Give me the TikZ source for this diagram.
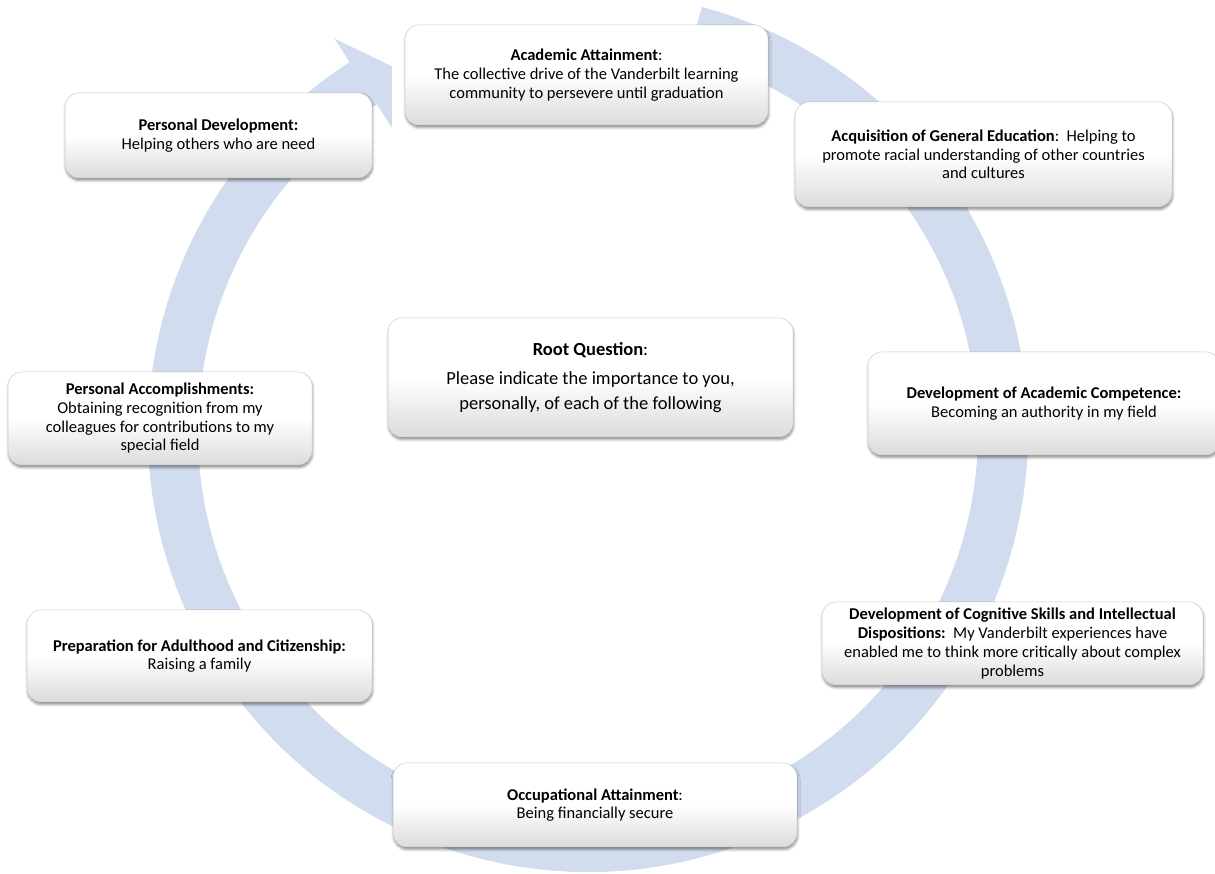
\documentclass[tikz,border=0pt]{standalone}
\usepackage{fontspec}
\setmainfont{Carlito}
\usetikzlibrary{shadows.blur}
\definecolor{ringc}{HTML}{D1DCEE}
\begin{document}
\begin{tikzpicture}[x=1pt,y=1pt,
  box/.style={rounded corners=14pt, draw=black!20, line width=0.5pt,
    top color=white, bottom color=black!14, middle color=white,
    blur shadow={shadow xshift=0.6pt, shadow yshift=-2.5pt, shadow blur radius=2.5pt, shadow opacity=45},
    align=center, font=\fontsize{16.5}{18.7}\selectfont, inner sep=0pt, anchor=center, text=black},
]
\useasboundingbox (0,0) rectangle (1215,874);
\coordinate (C) at (588,442);
% circular arrow
\fill[ringc] ([shift={(C)}]75:440pt) arc[start angle=75, end angle=-237.2, radius=440pt]
  -- ([shift={(C)}]-237.2:468pt) -- ([shift={(C)}]-241.8:415pt) -- ([shift={(C)}]-237.2:362pt)
  -- ([shift={(C)}]-237.2:390pt) arc[start angle=-237.2, end angle=75, radius=390pt] -- cycle;

\node[box, minimum width=363pt, minimum height=100pt] (acad) at (586.5,799)
  {\textbf{Academic Attainment}:\\The collective drive of the Vanderbilt learning\\community to persevere until graduation};
\node[box, minimum width=307pt, minimum height=85pt] (pdev) at (218.5,738.5)
  {\textbf{Personal Development:}\\Helping others who are need};
\node[box, minimum width=377pt, minimum height=105pt] (acq) at (983.5,719.5)
  {\textbf{Acquisition of General Education}:\ \ Helping to\\promote racial understanding of other countries\\and cultures};
\node[box, minimum width=405pt, minimum height=119pt, font=\fontsize{18.5}{25}\selectfont] (root) at (590.5,496.5)
  {\textbf{Root Question}:\\[4pt]Please indicate the importance to you,\\personally, of each of the following};
\node[box, minimum width=304pt, minimum height=93pt] (pacc) at (160,455.5)
  {\textbf{Personal Accomplishments:}\\Obtaining recognition from my\\colleagues for contributions to my\\special field};
\node[box, minimum width=352pt, minimum height=103pt] (dac) at (1044,470.5)
  {\textbf{Development of Academic Competence:}\\Becoming an authority in my field};
\node[box, minimum width=381pt, minimum height=83pt] (cog) at (1012.5,230.5)
  {\textbf{Development of Cognitive Skills and Intellectual}\\\textbf{Dispositions:}\ \ My Vanderbilt experiences have\\enabled me to think more critically about complex\\problems};
\node[box, minimum width=345pt, minimum height=92pt] (prep) at (199.5,218)
  {\textbf{Preparation for Adulthood and Citizenship:}\\Raising a family};
\node[box, minimum width=404pt, minimum height=84pt] (occ) at (595,69)
  {\textbf{Occupational Attainment}:\\Being financially secure};
\end{tikzpicture}
\end{document}
